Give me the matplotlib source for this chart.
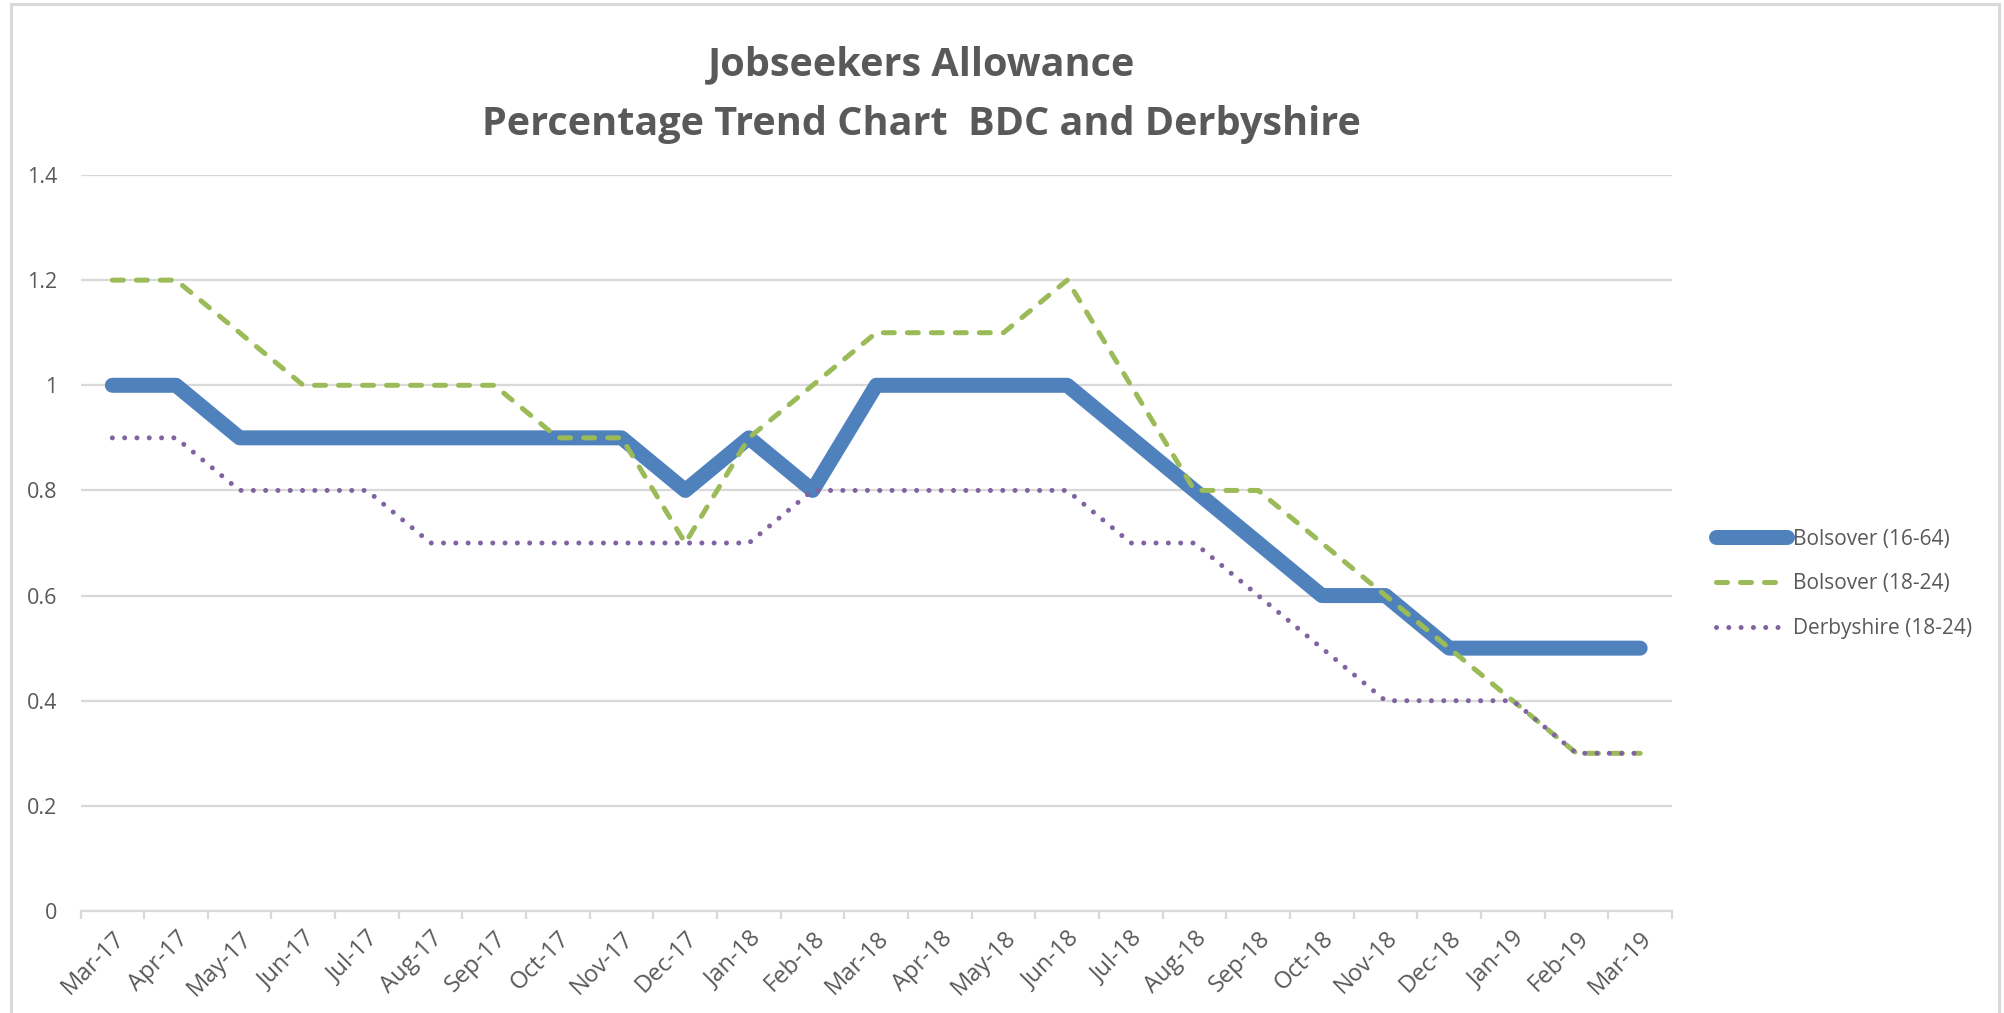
import matplotlib
matplotlib.use("Agg")
import matplotlib.pyplot as plt
from matplotlib.patches import Rectangle
import numpy as np

months = ["Mar-17", "Apr-17", "May-17", "Jun-17", "Jul-17", "Aug-17", "Sep-17",
          "Oct-17", "Nov-17", "Dec-17", "Jan-18", "Feb-18", "Mar-18", "Apr-18",
          "May-18", "Jun-18", "Jul-18", "Aug-18", "Sep-18", "Oct-18", "Nov-18",
          "Dec-18", "Jan-19", "Feb-19", "Mar-19"]
bolsover_16_64 = [1.0, 1.0, 0.9, 0.9, 0.9, 0.9, 0.9, 0.9, 0.9, 0.8, 0.9, 0.8, 1.0,
                  1.0, 1.0, 1.0, 0.9, 0.8, 0.7, 0.6, 0.6, 0.5, 0.5, 0.5, 0.5]
bolsover_18_24 = [1.2, 1.2, 1.1, 1.0, 1.0, 1.0, 1.0, 0.9, 0.9, 0.7, 0.9, 1.0, 1.1,
                  1.1, 1.1, 1.2, 1.0, 0.8, 0.8, 0.7, 0.6, 0.5, 0.4, 0.3, 0.3]
derbyshire_18_24 = [0.9, 0.9, 0.8, 0.8, 0.8, 0.7, 0.7, 0.7, 0.7, 0.7, 0.7, 0.8, 0.8,
                    0.8, 0.8, 0.8, 0.7, 0.7, 0.6, 0.5, 0.4, 0.4, 0.4, 0.3, 0.3]
y_ticks = [0, 0.2, 0.4, 0.6, 0.8, 1, 1.2, 1.4]
y_labels = ["0", "0.2", "0.4", "0.6", "0.8", "1", "1.2", "1.4"]

W, H = 2004, 1013
fig = plt.figure(figsize=(W / 100, H / 100), dpi=100)
fig.patch.set_facecolor("white")

# chart-area border
fig.add_artist(Rectangle((10.5 / W, -0.05), (1999 - 10.5) / W, 1.05 - 3.5 / H,
                         transform=fig.transFigure, fill=False,
                         edgecolor="#D9D9D9", linewidth=2.2))

left, right, top, bottom = 80.5, 1672, 175, 911
ax = fig.add_axes([left / W, 1 - bottom / H, (right - left) / W, (bottom - top) / H])

x = np.arange(len(months))
GRAY_TXT = "#595959"
GRID = "#D9D9D9"
FONT = ["Open Sans", "DejaVu Sans"]

ax.plot(x, bolsover_16_64, color="#4F81BD", linewidth=10.8,
        solid_capstyle="round", solid_joinstyle="round", zorder=3,
        label="Bolsover (16-64)")
l2, = ax.plot(x, bolsover_18_24, color="#9BBB59", linewidth=3.6,
              dash_capstyle="round", dash_joinstyle="round", zorder=4,
              label="Bolsover (18-24)")
l2.set_dashes([2.2, 2.6])
l3, = ax.plot(x, derbyshire_18_24, color="#8064A2", linewidth=3.6,
              dash_capstyle="round", zorder=5, label="Derbyshire (18-24)")
l3.set_dashes([0.01, 2.45])

ax.set_xlim(-0.5, len(months) - 0.5)
ax.set_ylim(0, 1.4)
ax.set_yticks(y_ticks)
ax.set_yticklabels(y_labels, family=FONT)
ax.yaxis.grid(True, color=GRID, linewidth=1.6)
ax.set_axisbelow(True)
ax.tick_params(axis="y", length=0, pad=16.5, labelsize=15.5, labelcolor=GRAY_TXT)

ax.set_xticks(x)
ax.set_xticklabels(months, rotation=45, ha="right", rotation_mode="anchor",
                   fontsize=17, color=GRAY_TXT, family=FONT)
ax.tick_params(axis="x", which="major", length=0, pad=11)
ax.set_xticks(np.arange(-0.5, len(months), 1), minor=True)
ax.tick_params(axis="x", which="minor", length=6, width=1.6, color=GRID)

for s in ["left", "right", "top"]:
    ax.spines[s].set_visible(False)
ax.spines["bottom"].set_color(GRID)
ax.spines["bottom"].set_linewidth(1.6)

fig.text(721 / 1568, 1 - 65 / H, "Jobseekers Allowance", ha="center", va="center",
         fontsize=28.5, fontweight="bold", color=GRAY_TXT, family=FONT)
fig.text(721 / 1568, 1 - 125 / H, "Percentage Trend Chart  BDC and Derbyshire",
         ha="center", va="center", fontsize=28.5, fontweight="bold",
         color=GRAY_TXT, family=FONT)

leg = fig.legend(loc="center left", bbox_to_anchor=(1697 / W, 1 - 584 / H),
                 frameon=False, labelcolor=GRAY_TXT,
                 prop={"family": FONT, "size": 15},
                 handlelength=3.4, handletextpad=0.3, labelspacing=1.15)

fig.savefig("out.png", dpi=100, facecolor="white")
